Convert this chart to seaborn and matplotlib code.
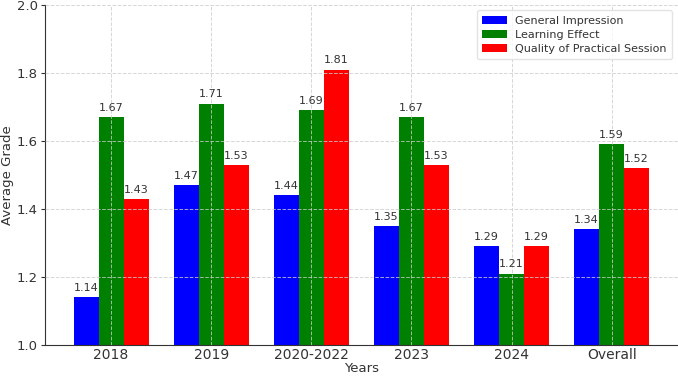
import matplotlib
matplotlib.use('Agg')
import matplotlib.pyplot as plt
import seaborn as sns
import pandas as pd

# Datos
years = ['2018', '2019', '2020-2022', '2023', '2024', 'Overall']
general_impression = [1.14, 1.47, 1.44, 1.35, 1.29, 1.34]
learning_effect = [1.67, 1.71, 1.69, 1.67, 1.21, 1.59]
practical_quality = [1.43, 1.53, 1.81, 1.53, 1.29, 1.52]

series = ['General Impression', 'Learning Effect', 'Quality of Practical Session']
colores = ['blue', 'green', 'red']

filas = []
for nombre, valores in zip(series, [general_impression, learning_effect, practical_quality]):
    for y, v in zip(years, valores):
        filas.append({'Years': y, 'Grade': v, 'Category': nombre})
df = pd.DataFrame(filas)

sns.set_style('white')
plt.rcParams['font.family'] = ['DejaVu Sans']

fig = plt.figure(figsize=(6.78, 3.77), dpi=100)
ax = fig.add_axes([0.066, 0.085, 0.934, 0.902])

sns.barplot(data=df, x='Years', y='Grade', hue='Category', hue_order=series,
            palette=colores, saturation=1, width=0.75, linewidth=0,
            edgecolor='none', ax=ax)

# Etiquetas sobre las barras
for cont in ax.containers:
    ax.bar_label(cont, fmt='%.2f', padding=3, fontsize=8, color='#333333')

ax.set_ylim(1.0, 2.0)
ax.set_xlim(-0.6625, 5.6625)
ax.set_xlabel('Years', fontsize=9.5, color='#333333', labelpad=0)
ax.set_ylabel('Average Grade', fontsize=9.5, color='#333333', labelpad=2)
ax.tick_params(axis='x', labelsize=10, pad=2, length=0)
ax.tick_params(axis='y', labelsize=9.5, pad=2, length=3)
ax.tick_params(axis='both', colors='#333333', left=True)

ax.set_axisbelow(False)
ax.grid(True, linestyle='--', color='#cccccc', linewidth=0.7, alpha=0.8)
sns.despine(ax=ax)
ax.spines['left'].set_color('#333333')
ax.spines['bottom'].set_color('#333333')

leg = ax.legend(loc='upper right', fontsize=8, frameon=True, handlelength=2.2,
                borderpad=0.5, labelspacing=0.35)
leg.get_frame().set_edgecolor('#dddddd')
for t in leg.get_texts():
    t.set_color('#333333')

fig.savefig('out.png', dpi=100)
